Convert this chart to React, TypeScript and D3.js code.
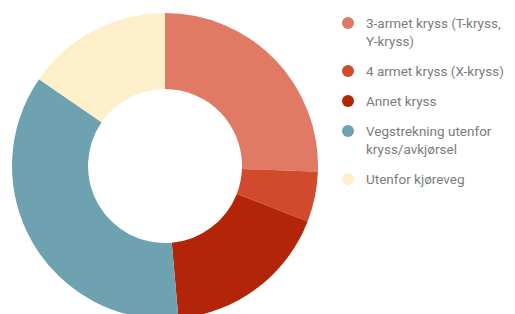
import React, { useEffect, useRef } from 'react';
import * as d3 from 'd3';

// share of accidents by location type (percent)
const categories = [
    '3-armet kryss (T-kryss, Y-kryss)',
    '4 armet kryss (X-kryss)',
    'Annet kryss',
    'Vegstrekning utenfor kryss/avkjørsel',
    'Utenfor kjøreveg',
];
const values = [25.6, 5.3, 17.7, 36.0, 15.4];
const colors = ['#e07a65', '#d24a2d', '#b22508', '#6fa2b1', '#fdefca'];
// legend text as it wraps in the original
const legendLines = [
    ['3-armet kryss (T-kryss,', 'Y-kryss)'],
    ['4 armet kryss (X-kryss)'],
    ['Annet kryss'],
    ['Vegstrekning utenfor', 'kryss/avkjørsel'],
    ['Utenfor kjøreveg'],
];

export default function App() {
    const ref = useRef<SVGSVGElement>(null);

    useEffect(() => {
        let svgWidth = 515, svgHeight = 314;
        let svg = d3.select(ref.current)
            .attr('width', svgWidth)
            .attr('height', svgHeight);

        svg.selectAll('g').remove();

        let cx = 165, cy = 166;
        let outer = 153, inner = 77;

        let data = categories.map((c, i) => ({ name: c, value: values[i], color: colors[i] }));

        let pie = d3.pie<any>()
            .sort(null)
            .value(d => d.value);
        let arc = d3.arc<any>()
            .innerRadius(inner)
            .outerRadius(outer);

        let graph = svg.append('g')
            .attr('transform', 'translate(' + cx + ',' + cy + ')');

        graph.selectAll('path')
            .data(pie(data))
            .enter()
                .append('path')
                .attr('d', arc)
                .attr('fill', d => d.data.color)
                .attr('stroke', 'none');

        // legend
        let legend = svg.append('g')
            .attr('transform', 'translate(348, 0)');
        let lineHeight = 18;
        let y = 23;
        legendLines.forEach((lines, i) => {
            let item = legend.append('g');
            item.append('circle')
                .attr('cx', 0)
                .attr('cy', y)
                .attr('r', 6)
                .attr('fill', colors[i]);
            let text = item.append('text')
                .attr('x', 18)
                .attr('y', y + 5)
                .attr('fill', '#7c7c7c')
                .style('font-family', 'Roboto, sans-serif')
                .style('font-size', '13.5px');
            lines.forEach((l, j) => {
                text.append('tspan')
                    .attr('x', 18)
                    .attr('dy', j === 0 ? 0 : lineHeight)
                    .text(l);
            });
            y += (lines.length - 1) * lineHeight + 30;
        });
    }, []);

    return (
        <svg ref={ref} style={{ position: 'absolute', left: 0, top: 0, display: 'block' }}>
        </svg>
    );
}
